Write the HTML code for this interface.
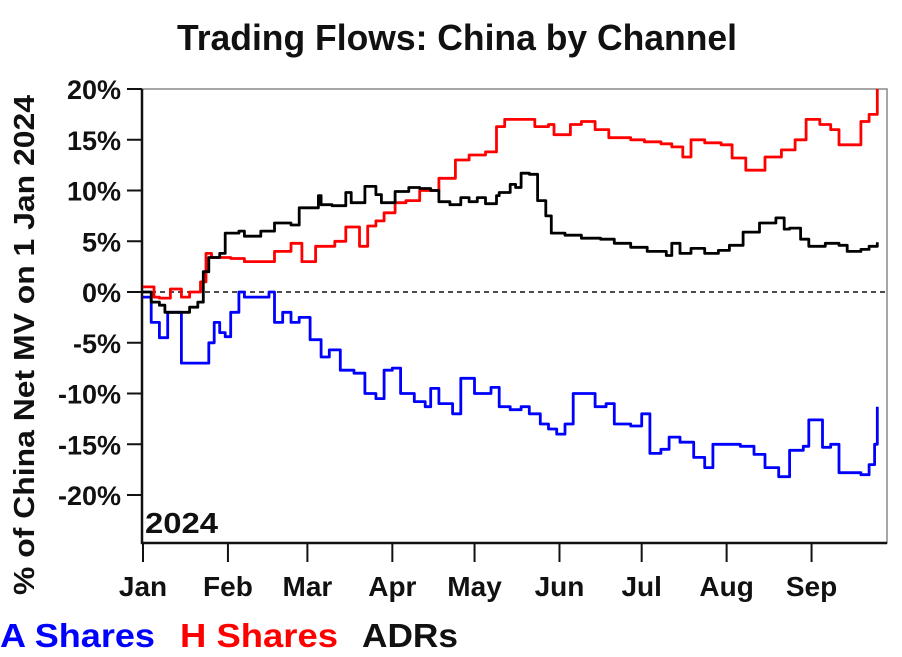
<!DOCTYPE html>
<html><head><meta charset="utf-8"><style>
html,body{margin:0;padding:0;background:#fff;}
svg{display:block;font-family:"Liberation Sans",sans-serif;font-weight:bold;}
</style></head><body>
<svg id="chart" width="902" height="657" viewBox="0 0 902 657">
<text x="457" y="50" text-anchor="middle" font-size="36" textLength="560" lengthAdjust="spacingAndGlyphs" fill="#111">Trading Flows: China by Channel</text>
<g id="axes"></g>
<g id="series"></g>
<text transform="translate(34,345) rotate(-90)" text-anchor="middle" font-size="29" textLength="500" lengthAdjust="spacingAndGlyphs" fill="#111">% of China Net MV on 1 Jan 2024</text>
<text x="145" y="533" font-size="29" textLength="73" lengthAdjust="spacingAndGlyphs" fill="#111">2024</text>
<text x="0" y="647" font-size="33" textLength="155" lengthAdjust="spacingAndGlyphs" fill="#0000ff">A Shares</text>
<text x="180" y="647" font-size="33" textLength="158" lengthAdjust="spacingAndGlyphs" fill="#ff0000">H Shares</text>
<text x="362" y="647" font-size="33" textLength="96" lengthAdjust="spacingAndGlyphs" fill="#111">ADRs</text>
</svg>
<script>
const yTicks = [20, 15, 10, 5, 0, -5, -10, -15, -20];
const monthLabels = ["Jan","Feb","Mar","Apr","May","Jun","Jul","Aug","Sep"];
const monthStarts = [0, 31, 60, 91, 121, 152, 182, 213, 244];
const aDays = [0,3,6,9,14,21,24,26,28,30,32,35,37,46,48,51,54,57,61,65,68,72,77,81,85,88,91,94,99,103,105,108,113,116,121,127,130,134,138,141,145,148,151,154,157,161,165,169,172,178,182,185,189,192,196,201,205,208,212,218,223,227,232,236,241,243,248,251,254,262,265,267,268];
const aVals = [-0.5,-3,-4.5,-2,-7,-7,-5,-3,-4,-4.4,-2,0,-0.5,0,-3,-2,-3,-2.5,-4.7,-6.4,-5.7,-7.7,-8,-10,-10.5,-7.7,-7.5,-10,-10.8,-11.3,-9.5,-11,-12,-8.5,-10,-9.4,-11.3,-11.6,-11.3,-12,-13,-13.5,-14,-13,-10,-10,-11.3,-11,-13,-13.2,-12,-15.9,-15.5,-14.3,-14.8,-16.3,-17.3,-15,-15,-15.2,-16,-17.3,-18.2,-15.6,-15.2,-12.6,-15.3,-15,-17.8,-18,-17,-15,-11.3];
const hDays = [0,4,6,10,14,17,21,23,25,32,37,43,48,54,57,58,63,70,74,79,82,85,88,92,96,101,108,114,119,125,129,132,138,143,148,150,156,160,165,170,178,183,189,193,197,200,205,211,215,220,225,227,233,238,242,247,251,254,259,262,265,268];
const hVals = [0.5,-0.5,-0.6,0.3,-0.5,0,1,3.8,3.4,3.3,3,3,4,4.8,4.8,3,4.5,5,6.4,4.5,6.5,7,7.8,8.8,9,10,11.2,13,13.5,13.8,16.3,17,17,16.3,16.5,15.5,16.5,16.8,16,15.2,15,14.8,14.6,14.3,13.3,15,14.7,14.5,13.2,12,12,13.3,14,15,17,16.5,16,14.5,14.5,16.8,17.5,20];
const adrDays = [0,3,6,8,14,17,20,22,24,28,30,35,37,43,48,54,57,61,64,65,69,74,76,81,85,87,92,97,101,105,108,112,116,119,122,125,129,130,134,136,138,141,144,147,149,154,160,167,172,178,184,191,193,196,200,205,210,214,219,225,231,234,236,240,243,249,254,257,262,265,268];
const adrVals = [0,-1,-1.3,-2,-2,-1.5,-1,2,3.4,3.8,5.8,6,5.5,6,6.8,6.6,8.3,8.3,9.5,8.6,8.5,9.8,8.8,10.4,9.6,8.8,9.9,10.3,10.2,10,8.9,8.6,9.3,8.9,9.3,8.7,9.5,9.8,10.6,10.3,11.7,11.6,9,7.5,5.8,5.6,5.3,5.2,4.8,4.4,4.0,3.6,4.8,3.8,4.3,3.8,4.1,4.6,5.9,6.8,7.3,6.2,6.3,5.2,4.5,4.8,4.6,4.0,4.2,4.5,4.9];

const NS = "http://www.w3.org/2000/svg";
const L = 142, R = 887, T = 89, B = 543;
const x = d => 143 + d * 2.74;
const y = v => 292 - v * 10.15;
function mk(tag, attrs, parent) {
  const e = document.createElementNS(NS, tag);
  for (const k in attrs) e.setAttribute(k, attrs[k]);
  parent.appendChild(e);
  return e;
}
const axes = document.getElementById("axes");
const series = document.getElementById("series");
let e;
e = mk("rect", {x: L, y: T, width: R - L, height: B - T, fill: "none", stroke: "#888", "stroke-width": 1.5}, axes);


e = mk("line", {x1: L, y1: T, x2: L, y2: B + 1, stroke: "#111", "stroke-width": 2.5}, axes);


e = mk("line", {x1: L - 1, y1: B, x2: R, y2: B, stroke: "#111", "stroke-width": 2.5}, axes);


e = mk("line", {x1: L, y1: y(0), x2: R, y2: y(0), stroke: "#111", "stroke-width": 1.5, "stroke-dasharray": "5,4"}, axes);


yTicks.forEach(v => {
  const t = mk("line", {x1: 127, y1: y(v), x2: L, y2: y(v), stroke: "#111", "stroke-width": 2}, axes);
  
  
  const lb = mk("text", {x: 121, y: y(v) + 10, "text-anchor": "end", "font-size": 27, fill: "#111"}, axes);
  lb.textContent = v + "%";
  
  
});
monthStarts.forEach((d, i) => {
  const t = mk("line", {x1: x(d), y1: B, x2: x(d), y2: 562, stroke: "#111", "stroke-width": 2}, axes);
  
  
  const lb = mk("text", {x: x(d), y: 596, "text-anchor": "middle", "font-size": 28, fill: "#111"}, axes);
  lb.textContent = monthLabels[i];
  
  
});
function line(days, vals, color, name) {
  let d = "";
  days.forEach((dd, i) => {
    if (i === 0) d += "M" + x(dd).toFixed(1) + "," + y(vals[i]).toFixed(1);
    else d += "H" + x(dd).toFixed(1) + "V" + y(vals[i]).toFixed(1);
  });
  const p = mk("path", {d: d, fill: "none", stroke: color, "stroke-width": 2.8, "stroke-linejoin": "round"}, series);
  
  
}
line(aDays, aVals, "#0000ff", "a-shares-line");
line(hDays, hVals, "#ff0000", "h-shares-line");
line(adrDays, adrVals, "#000000", "adrs-line");
</script>
</body></html>
